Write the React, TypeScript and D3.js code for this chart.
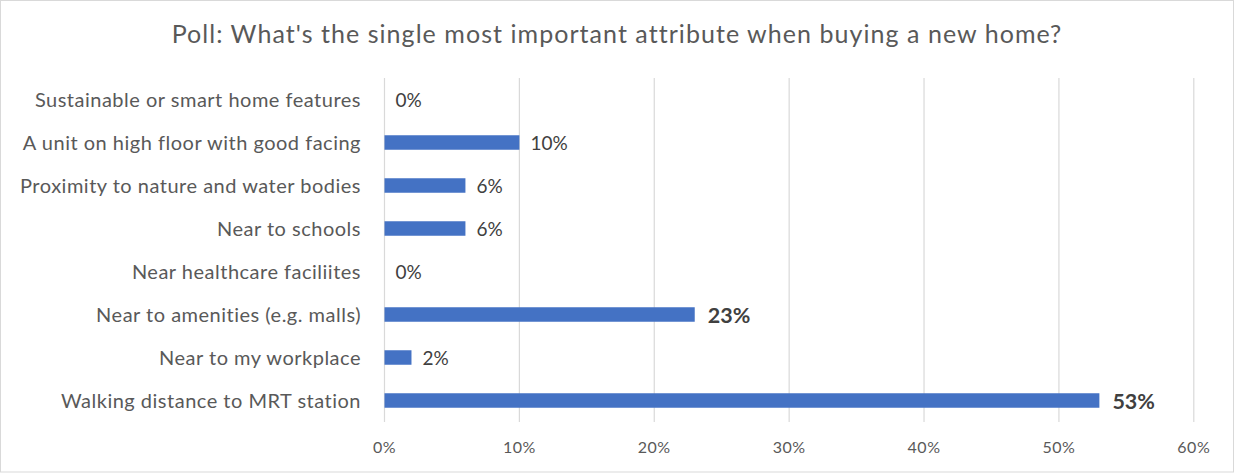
import React, { useEffect } from 'react';
import * as d3 from 'd3';

const title = "Poll: What's the single most important attribute when buying a new home?";
const categories = [
  'Sustainable or smart home features',
  'A unit on high floor with good facing',
  'Proximity to nature and water bodies',
  'Near to schools',
  'Near healthcare faciliites',
  'Near to amenities (e.g. malls)',
  'Near to my workplace',
  'Walking distance to MRT station',
];
const values = [0, 10, 6, 6, 0, 23, 2, 53];
const boldLabels = [false, false, false, false, false, true, false, true];
const tickValues = [0, 10, 20, 30, 40, 50, 60];

const W = 1234;
const H = 473;
const FONT = 'Lato, "Open Sans", sans-serif';

export default function App() {
  useEffect(() => {
    document.body.style.margin = '0';
  }, []);

  const x = d3.scaleLinear().domain([0, 60]).range([384.5, 1193.8]);
  const y = d3
    .scaleBand<string>()
    .domain(categories)
    .range([78, 422])
    .paddingInner(0.663)
    .paddingOuter(0.3315);

  return (
    <svg width={W} height={H} style={{ display: 'block', background: '#fff' }}>
      <rect x={0.5} y={0.5} width={W - 1} height={H - 1.5} fill="#fff" stroke="#d9d9d9" strokeWidth={1} />
      <text x={617} y={43} textAnchor="middle" fontFamily={FONT} fontSize={25} letterSpacing={1.05} fill="#595959">
        {title}
      </text>
      {tickValues.map((t) => (
        <g key={t}>
          <line x1={x(t)} x2={x(t)} y1={78} y2={422} stroke="#d9d9d9" strokeWidth={1.2} />
          <text x={x(t)} y={453} textAnchor="middle" fontFamily={FONT} fontSize={16} letterSpacing={0.5} fill="#595959">
            {t + '%'}
          </text>
        </g>
      ))}
      {categories.map((c, i) => {
        const yy = y(c)!;
        const bw = y.bandwidth();
        const cy = yy + bw / 2;
        return (
          <g key={c}>
            <rect x={x(0)} y={yy} width={x(values[i]) - x(0)} height={bw} fill="#4472c4" />
            <text x={361} y={cy + 7.2} textAnchor="end" fontFamily={FONT} fontSize={20} letterSpacing={0.5} fill="#595959">
              {c}
            </text>
            <text
              x={x(values[i]) + (boldLabels[i] ? 13 : 11)}
              y={cy + (boldLabels[i] ? 8 : 7.2)}
              fontFamily={FONT}
              fontSize={boldLabels[i] ? 21.5 : 19}
              fontWeight={boldLabels[i] ? 'bold' : 'normal'}
              fill="#404040"
            >
              {values[i] + '%'}
            </text>
          </g>
        );
      })}
    </svg>
  );
}
